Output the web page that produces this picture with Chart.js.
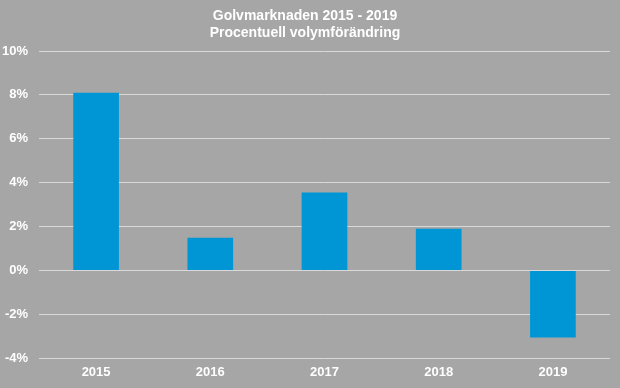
<!DOCTYPE html>
<html>
<head>
<meta charset="utf-8">
<script src="https://cdn.jsdelivr.net/npm/chart.js@4"></script>
<style>
  body { margin: 0; background: #a6a6a6; }
  #wrap { width: 620px; height: 388px; }
</style>
</head>
<body>
<div id="wrap"><canvas id="golvChart" width="620" height="388"></canvas></div>
<script>
const years = ["2015", "2016", "2017", "2018", "2019"];
const volumeChange = [8.1, 1.5, 3.55, 1.9, -3.05];
const titleLines = ["Golvmarknaden 2015 - 2019", "Procentuell volymförändring"];

const bgPlugin = {
    id: "bg",
    beforeDraw(chart) {
        const c = chart.ctx;
        c.save();
        c.fillStyle = "#a6a6a6";
        c.fillRect(0, 0, chart.width, chart.height);
        c.restore();
    }
};

let ctx = document.getElementById("golvChart").getContext("2d");
new Chart(ctx, {
    type: "bar",
    data: {
        labels: years,
        datasets: [{
            data: volumeChange,
            backgroundColor: "#0096d6",
            categoryPercentage: 1,
            barPercentage: 0.4
        }]
    },
    options: {
        responsive: false,
        animation: false,
        layout: { padding: { left: 0, right: 10, top: 1, bottom: 2 } },
        plugins: {
            legend: { display: false },
            tooltip: { enabled: false },
            title: {
                display: true,
                text: titleLines,
                color: "#ffffff",
                font: { family: "Liberation Sans, Arial", size: 14, weight: "bold", lineHeight: 1.25 },
                padding: { top: 6, bottom: 9 }
            }
        },
        scales: {
            x: {
                grid: { display: false, drawTicks: false },
                border: { display: false },
                ticks: {
                    color: "#ffffff",
                    font: { family: "Liberation Sans, Arial", size: 13, weight: "bold" },
                    padding: 6
                }
            },
            y: {
                min: -4,
                max: 10,
                afterFit: axis => { axis.width = 39; },
                grid: { color: "#d9d9d9", lineWidth: 1, drawTicks: false },
                border: { display: false },
                ticks: {
                    stepSize: 2,
                    color: "#ffffff",
                    padding: 11,
                    font: { family: "Liberation Sans, Arial", size: 13, weight: "bold" },
                    callback: v => v + "%"
                }
            }
        }
    },
    plugins: [bgPlugin]
});
</script>
</body>
</html>
